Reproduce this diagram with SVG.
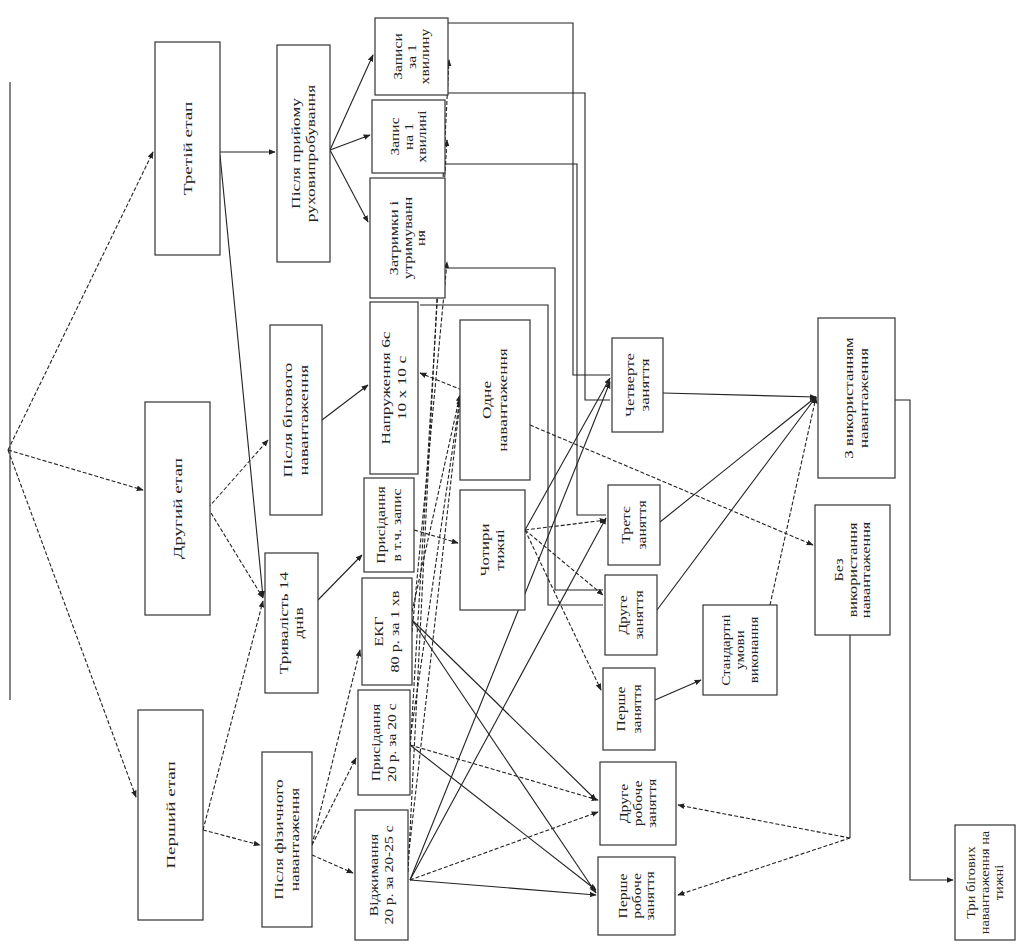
<svg xmlns="http://www.w3.org/2000/svg" width="1019" height="944" viewBox="0 0 1019 944">
<defs>
<marker id="ah" viewBox="0 0 10 10" refX="9" refY="5" markerWidth="7" markerHeight="7" orient="auto-start-reverse" markerUnits="userSpaceOnUse">
<path d="M0,1 L10,5 L0,9 Z" fill="#222"/>
</marker>
<style>
.box{fill:#fff;stroke:#333;stroke-width:1.2}
.t{font-family:"Liberation Serif","Times New Roman",serif;font-size:12px;fill:#222}
.c{fill:none;stroke:#222;stroke-width:1.1}
.d{stroke-dasharray:4 2}
.a{marker-end:url(#ah)}
</style>
</defs>
<rect width="1019" height="944" fill="#fff"/>

<g id="connectors">
<path class="c d a" d="M8,450 L153,152"/>
<path class="c d a" d="M8,450 L143,490"/>
<path class="c d a" d="M8,450 L136,797"/>
<path class="c a" d="M220,152 L275,152"/>
<path class="c a" d="M220,155 L263,597"/>
<path class="c d a" d="M208,508 L268,440"/>
<path class="c d a" d="M208,508 L263,598"/>
<path class="c d a" d="M203,830 L263,601"/>
<path class="c d a" d="M203,830 L260,845"/>
<path class="c a" d="M330,150 L373,55"/>
<path class="c a" d="M330,150 L370,135"/>
<path class="c a" d="M330,150 L368,222"/>
<path class="c a" d="M322,420 L368,385"/>
<path class="c a" d="M318,600 L362,555"/>
<path class="c d a" d="M312,845 L360,650"/>
<path class="c d a" d="M312,845 L356,758"/>
<path class="c d a" d="M312,855 L353,873"/>
<path class="c d a" d="M462,390 L420,373"/>
<path class="c d a" d="M414,530 L458,543"/>
<path class="c d a" d="M412,612 L460,395"/>
<path class="c d a" d="M410,740 L460,398"/>
<path class="c d a" d="M408,860 L460,401"/>
<path class="c d a" d="M412,632 L447,262"/>
<path class="c d a" d="M410,752 L447,140"/>
<path class="c d a" d="M408,872 L449,60"/>
<path class="c d a" d="M530,425 L813,545"/>
<path class="c a" d="M525,530 L610,378"/>
<path class="c d a" d="M525,530 L606,520"/>
<path class="c d a" d="M525,530 L603,595"/>
<path class="c d a" d="M525,530 L601,690"/>
<path class="c a" d="M412,620 L596,800"/>
<path class="c a" d="M412,620 L596,893"/>
<path class="c d a" d="M410,745 L598,800"/>
<path class="c a" d="M410,745 L596,890"/>
<path class="c a" d="M410,880 L596,895"/>
<path class="c a" d="M410,880 L606,518"/>
<path class="c a" d="M410,880 L610,382"/>
<path class="c d a" d="M410,880 L598,812"/>
<path class="c a" d="M655,700 L701,680"/>
<path class="c a" d="M663,393 L816,397"/>
<path class="c a" d="M660,522 L816,397"/>
<path class="c a" d="M657,610 L816,397"/>
<path class="c d a" d="M770,605 L816,397"/>
<path class="c" d="M850,635 L850,838"/>
<path class="c d a" d="M850,838 L678,895"/>
<path class="c d a" d="M850,838 L678,805"/>
<path class="c a" d="M895,400 H910 V880 H953"/>
<path class="c" d="M448,23 H573 V375 H610"/>
<path class="c" d="M446,93 H585 V400 H610"/>
<path class="c" d="M446,164 H577 V515 H606"/>
<path class="c" d="M446,268 H555 V590 H603"/>
<path class="c" d="M420,305 H548 V605 H603"/>
</g>

<g id="root"><line x1="10" y1="82" x2="10" y2="700" stroke="#333" stroke-width="1.2"/></g>

<g id="n-stage3"><rect class="box" x="155" y="42" width="65" height="213"/>
<text class="t" font-size="13" transform="translate(187.5,148.5) rotate(-90) scale(1.6,1)" text-anchor="middle"><tspan x="0" y="4">Третій етап</tspan></text></g>
<g id="n-stage2"><rect class="box" x="145" y="402" width="65" height="213"/>
<text class="t" font-size="13" transform="translate(177.5,508.5) rotate(-90) scale(1.6,1)" text-anchor="middle"><tspan x="0" y="4">Другий етап</tspan></text></g>
<g id="n-stage1"><rect class="box" x="138" y="710" width="65" height="210"/>
<text class="t" font-size="13" transform="translate(170.5,815) rotate(-90) scale(1.6,1)" text-anchor="middle"><tspan x="0" y="4">Перший етап</tspan></text></g>

<g id="n-pislia-pryjomu"><rect class="box" x="277" y="45" width="53" height="217"/>
<text class="t" transform="translate(303.5,153.5) rotate(-90) scale(1.45,1)" text-anchor="middle"><tspan x="0" y="-4">Після прийому</tspan><tspan x="0" y="12">руховипробування</tspan></text></g>
<g id="n-pislia-bigovogo"><rect class="box" x="270" y="325" width="52" height="190"/>
<text class="t" transform="translate(296,420) rotate(-90) scale(1.55,1)" text-anchor="middle"><tspan x="0" y="-4">Після бігового</tspan><tspan x="0" y="12">навантаження</tspan></text></g>
<g id="n-tryvalist"><rect class="box" x="265" y="553" width="53" height="140"/>
<text class="t" transform="translate(291.5,623) rotate(-90) scale(1.45,1)" text-anchor="middle"><tspan x="0" y="-4">Тривалість 14</tspan><tspan x="0" y="12">днів</tspan></text></g>
<g id="n-pislia-fizychnogo"><rect class="box" x="262" y="752" width="50" height="175"/>
<text class="t" transform="translate(287,839.5) rotate(-90) scale(1.45,1)" text-anchor="middle"><tspan x="0" y="-4">Після фізичного</tspan><tspan x="0" y="12">навантаження</tspan></text></g>

<g id="n-zapys1"><rect class="box" x="375" y="18" width="73" height="77"/>
<text class="t" font-size="11" transform="translate(411.5,56.5) rotate(-90) scale(1.3,1)" text-anchor="middle"><tspan x="0" y="-10">Записи</tspan><tspan x="0" y="4">за 1</tspan><tspan x="0" y="18">хвилину</tspan></text></g>
<g id="n-zapys2"><rect class="box" x="372" y="100" width="73" height="73"/>
<text class="t" font-size="11" transform="translate(408.5,136.5) rotate(-90) scale(1.3,1)" text-anchor="middle"><tspan x="0" y="-10">Запис</tspan><tspan x="0" y="4">на 1</tspan><tspan x="0" y="18">хвилині</tspan></text></g>
<g id="n-zatrymky"><rect class="box" x="370" y="178" width="75" height="120"/>
<text class="t" font-size="11" transform="translate(407.5,238) rotate(-90) scale(1.35,1)" text-anchor="middle"><tspan x="0" y="-10">Затримки і</tspan><tspan x="0" y="4">утримуванн</tspan><tspan x="0" y="18">ня</tspan></text></g>
<g id="n-napruzhennia"><rect class="box" x="370" y="302" width="48" height="172"/>
<text class="t" transform="translate(394,388) rotate(-90) scale(1.45,1)" text-anchor="middle"><tspan x="0" y="-4">Напруження 6с</tspan><tspan x="0" y="12">10 х 10 с</tspan></text></g>
<g id="n-prysidannia1"><rect class="box" x="364" y="478" width="50" height="94"/>
<text class="t" transform="translate(389,525) rotate(-90) scale(1.3,1)" text-anchor="middle"><tspan x="0" y="-4">Присідання</tspan><tspan x="0" y="12">в т.ч. запис</tspan></text></g>
<g id="n-ekg"><rect class="box" x="362" y="578" width="50" height="107"/>
<text class="t" transform="translate(387,631.5) rotate(-90) scale(1.35,1)" text-anchor="middle"><tspan x="0" y="-4">ЕКГ</tspan><tspan x="0" y="12">80 р. за 1 хв</tspan></text></g>
<g id="n-prysidannia20"><rect class="box" x="358" y="690" width="52" height="105"/>
<text class="t" transform="translate(384,742.5) rotate(-90) scale(1.3,1)" text-anchor="middle"><tspan x="0" y="-4">Присідання</tspan><tspan x="0" y="12">20 р. за 20 с</tspan></text></g>
<g id="n-vidzhymannia"><rect class="box" x="355" y="810" width="53" height="130"/>
<text class="t" transform="translate(381.5,875) rotate(-90) scale(1.3,1)" text-anchor="middle"><tspan x="0" y="-4">Віджимання</tspan><tspan x="0" y="12">20 р. за 20-25 с</tspan></text></g>

<g id="n-odne"><rect class="box" x="460" y="320" width="70" height="160"/>
<text class="t" transform="translate(495,400) rotate(-90) scale(1.45,1)" text-anchor="middle"><tspan x="0" y="-4">Одне</tspan><tspan x="0" y="12">навантаження</tspan></text></g>
<g id="n-chotyry"><rect class="box" x="460" y="490" width="65" height="120"/>
<text class="t" transform="translate(492.5,550) rotate(-90) scale(1.4,1)" text-anchor="middle"><tspan x="0" y="-4">Чотири</tspan><tspan x="0" y="12">тижні</tspan></text></g>

<g id="n-chetverte"><rect class="box" x="612" y="338" width="51" height="94"/>
<text class="t" transform="translate(637.5,385) rotate(-90) scale(1.4,1)" text-anchor="middle"><tspan x="0" y="-4">Четверте</tspan><tspan x="0" y="12">заняття</tspan></text></g>
<g id="n-trete"><rect class="box" x="608" y="485" width="52" height="80"/>
<text class="t" transform="translate(634,525) rotate(-90) scale(1.3,1)" text-anchor="middle"><tspan x="0" y="-4">Третє</tspan><tspan x="0" y="12">заняття</tspan></text></g>
<g id="n-druhe"><rect class="box" x="605" y="575" width="52" height="80"/>
<text class="t" transform="translate(631,615) rotate(-90) scale(1.3,1)" text-anchor="middle"><tspan x="0" y="-4">Друге</tspan><tspan x="0" y="12">заняття</tspan></text></g>
<g id="n-pershe"><rect class="box" x="603" y="668" width="52" height="82"/>
<text class="t" transform="translate(629,709) rotate(-90) scale(1.3,1)" text-anchor="middle"><tspan x="0" y="-4">Перше</tspan><tspan x="0" y="12">заняття</tspan></text></g>
<g id="n-druhe-roboche"><rect class="box" x="600" y="762" width="76" height="83"/>
<text class="t" transform="translate(638,803.5) rotate(-90) scale(1.3,1)" text-anchor="middle"><tspan x="0" y="-10">Друге</tspan><tspan x="0" y="4">робоче</tspan><tspan x="0" y="18">заняття</tspan></text></g>
<g id="n-pershe-roboche"><rect class="box" x="598" y="857" width="77" height="78"/>
<text class="t" transform="translate(636.5,896) rotate(-90) scale(1.3,1)" text-anchor="middle"><tspan x="0" y="-10">Перше</tspan><tspan x="0" y="4">робоче</tspan><tspan x="0" y="18">заняття</tspan></text></g>

<g id="n-standartni"><rect class="box" x="703" y="605" width="74" height="90"/>
<text class="t" font-size="11" transform="translate(740,650) rotate(-90) scale(1.25,1)" text-anchor="middle"><tspan x="0" y="-10">Стандартні</tspan><tspan x="0" y="4">умови</tspan><tspan x="0" y="18">виконання</tspan></text></g>
<g id="n-z-vykorystanniam"><rect class="box" x="818" y="318" width="77" height="160"/>
<text class="t" transform="translate(856.5,398) rotate(-90) scale(1.4,1)" text-anchor="middle"><tspan x="0" y="-4">З використанням</tspan><tspan x="0" y="12">навантаження</tspan></text></g>
<g id="n-bez"><rect class="box" x="815" y="505" width="75" height="130"/>
<text class="t" transform="translate(852.5,570) rotate(-90) scale(1.35,1)" text-anchor="middle"><tspan x="0" y="-10">Без</tspan><tspan x="0" y="4">використання</tspan><tspan x="0" y="18">навантаження</tspan></text></g>
<g id="n-try-bihovykh"><rect class="box" x="955" y="825" width="60" height="115"/>
<text class="t" font-size="11" transform="translate(985,882.5) rotate(-90) scale(1.2,1)" text-anchor="middle"><tspan x="0" y="-10">Три бігових</tspan><tspan x="0" y="4">навантаження на</tspan><tspan x="0" y="18">тижні</tspan></text></g>
</svg>
